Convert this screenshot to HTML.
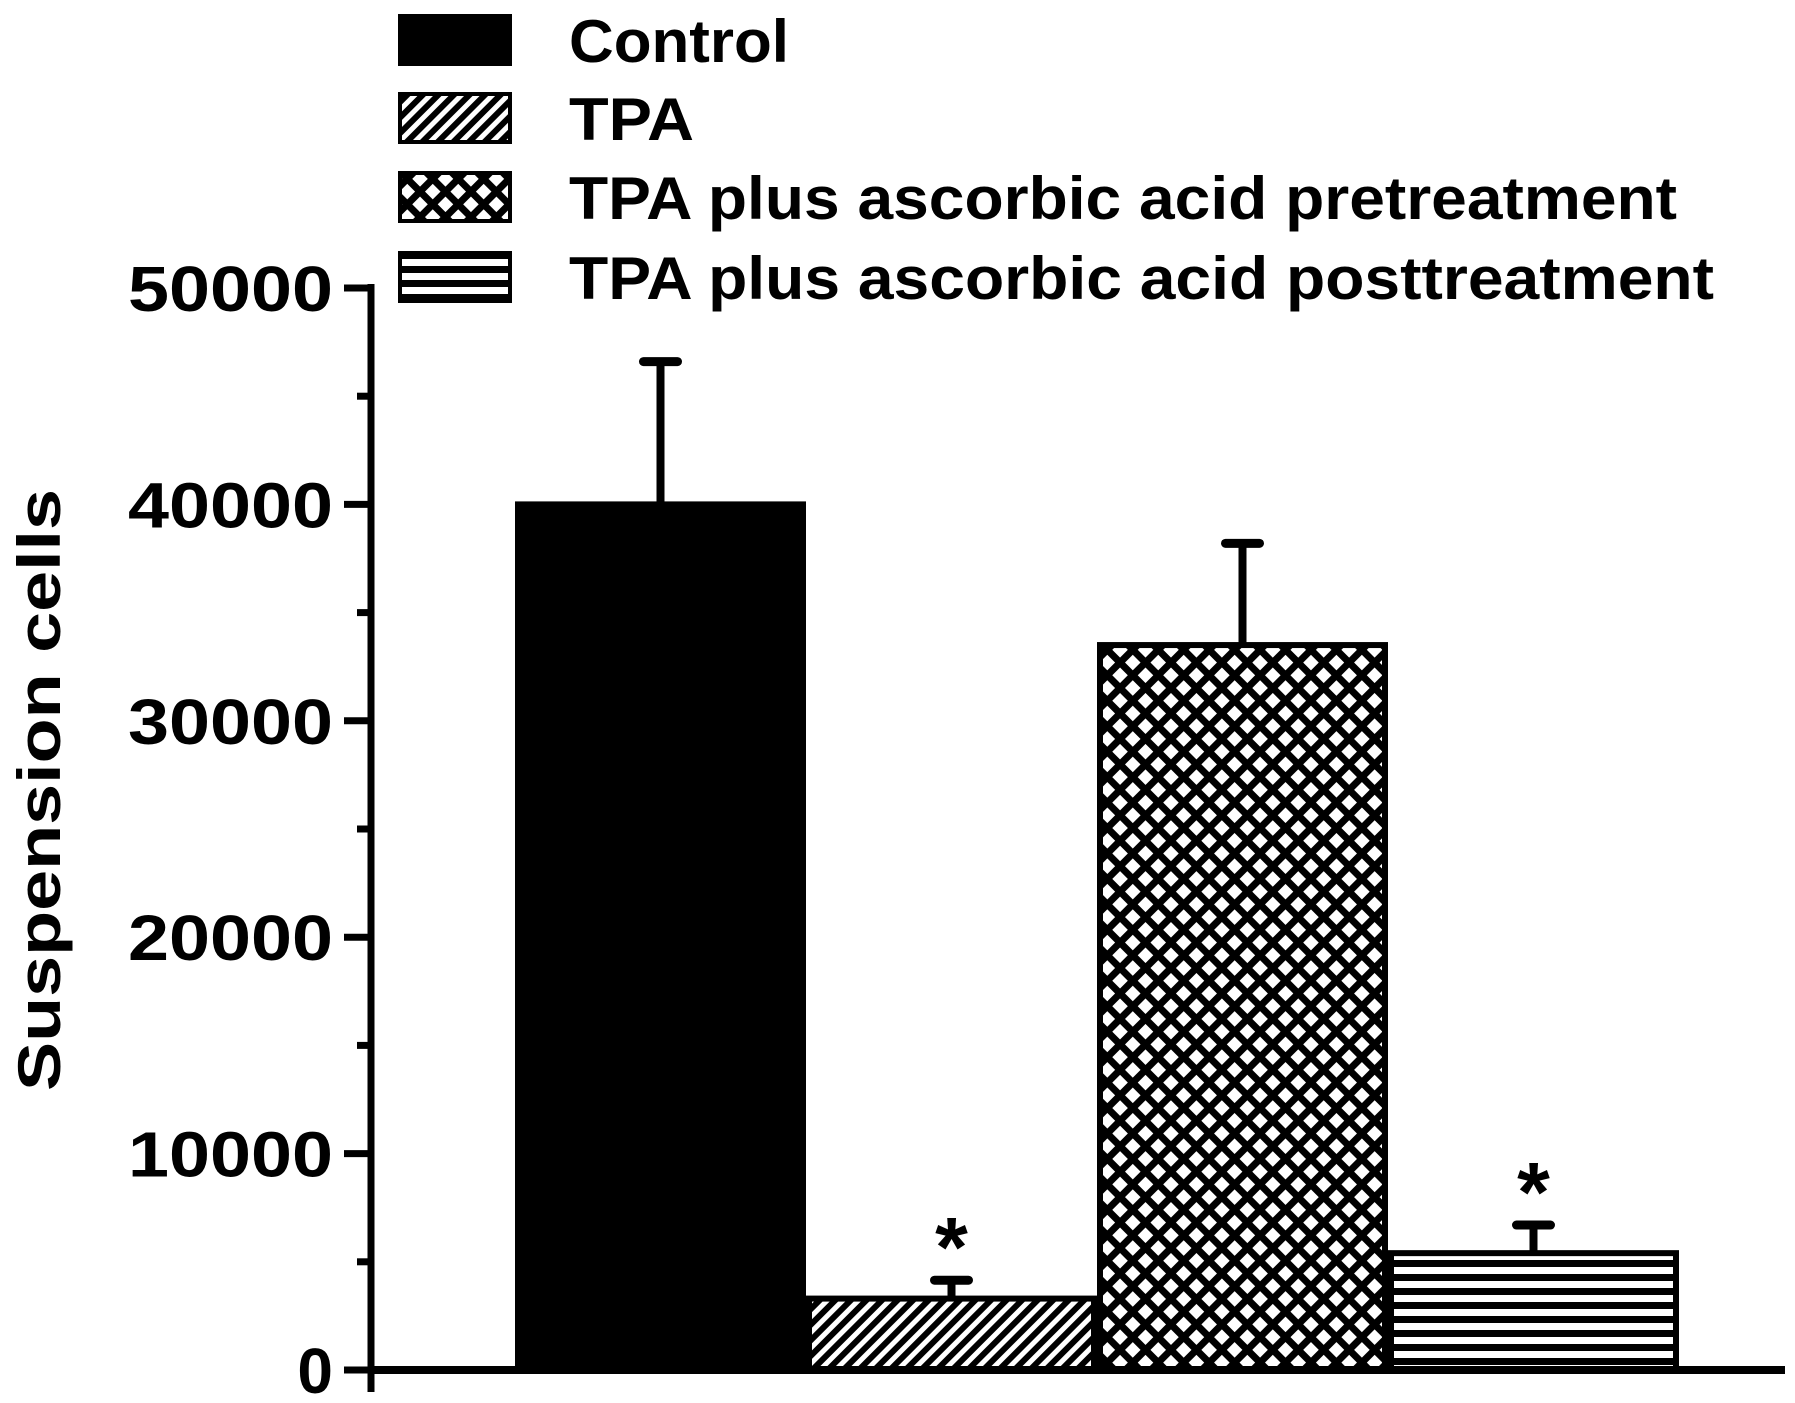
<!DOCTYPE html>
<html><head><meta charset="utf-8"><style>
html,body{margin:0;padding:0;background:#fff;}
svg{display:block;}
text{font-family:"Liberation Sans",Arial,sans-serif;font-weight:bold;fill:#000;}
</style></head><body>
<svg id="chart" width="1795" height="1403" viewBox="0 0 1795 1403" xmlns="http://www.w3.org/2000/svg">
<defs>
<pattern id="p-hatch" patternUnits="userSpaceOnUse" width="11" height="11" patternTransform="rotate(45)">
<rect width="11" height="11" fill="#fff"/><rect x="0" y="0" width="6" height="11" fill="#000"/></pattern>
<pattern id="p-cross" patternUnits="userSpaceOnUse" width="18" height="18" patternTransform="rotate(45)">
<rect width="18" height="18" fill="#000"/><rect x="4" y="4" width="11" height="11" fill="#fff"/></pattern>
<pattern id="p-horiz" patternUnits="userSpaceOnUse" width="14" height="14">
<rect width="14" height="14" fill="#fff"/><rect x="0" y="0" width="14" height="7" fill="#000"/></pattern>
</defs>
<g id="legend"></g>
<g id="bars"></g>
<g id="axes"></g>
<text transform="translate(60,790) rotate(-90)" text-anchor="middle" font-size="60" textLength="602" lengthAdjust="spacingAndGlyphs">Suspension cells</text>
</svg>
<script>
const categories = ["Control","TPA","TPA plus ascorbic acid pretreatment","TPA plus ascorbic acid posttreatment"];
const values = [40000, 3300, 33500, 5400];
const errors = [6600, 850, 4700, 1300];
const significant = [false, true, false, true];
const yTicks = [0, 10000, 20000, 30000, 40000, 50000];
const fills = ["#000","url(#p-hatch)","url(#p-cross)","url(#p-horiz)"];

const NS = "http://www.w3.org/2000/svg";
const y0 = 1370, yTop = 288, yMax = 50000;
const y = v => y0 - (v / yMax) * (y0 - yTop);
const barLeft = 515, barW = 291;
const x = i => barLeft + i * barW;
function mk(tag, attrs, parent){const e=document.createElementNS(NS,tag);for(const k in attrs)e.setAttribute(k,attrs[k]);parent.appendChild(e);return e;}

const bars = document.getElementById('bars');
values.forEach((v,i)=>{
  const r = mk('rect',{x:x(i)+3,y:y(v),width:barW-6,height:y0-y(v),fill:fills[i],stroke:'#000','stroke-width':6},bars);
  
  
  const cx = x(i)+barW/2, ye = y(v+errors[i]);
  const l = mk('line',{x1:cx,x2:cx,y1:y(v),y2:ye,stroke:'#000','stroke-width':8},bars);
  
  
  const c = mk('line',{x1:cx-17,x2:cx+17,y1:ye,y2:ye,stroke:'#000','stroke-width':9,'stroke-linecap':'round'},bars);
  
  
  if(significant[i]){
    const t = mk('text',{x:cx,y:ye-4,'text-anchor':'middle','font-size':84},bars);
    t.textContent='*';
    
    
  }
});

const axes = document.getElementById('axes');
const ya = mk('line',{x1:371,x2:371,y1:yTop-4,y2:y0+22,stroke:'#000','stroke-width':7},axes);


const xa = mk('line',{x1:368,x2:1785,y1:y0,y2:y0,stroke:'#000','stroke-width':8},axes);


yTicks.forEach(t=>{
  const tk = mk('line',{x1:344,x2:371,y1:y(t),y2:y(t),stroke:'#000','stroke-width':7},axes);
  
  
  const lb = mk('text',{x:333,y:y(t)+23,'text-anchor':'end','font-size':64},axes);
  lb.textContent = String(t);
  if(String(t).length>1){ lb.setAttribute('textLength', 41*String(t).length); lb.setAttribute('lengthAdjust','spacingAndGlyphs'); }
  
  
  if(t<yMax){
    const m = mk('line',{x1:357,x2:371,y1:y(t+5000),y2:y(t+5000),stroke:'#000','stroke-width':7},axes);
    
    
  }
});

const legend = document.getElementById('legend');
const ly = [40,118,197,277];
const lw = [220, 125, 1108, 1145];
categories.forEach((c,i)=>{
  const s = mk('rect',{x:400,y:ly[i]-24,width:110,height:48,fill:fills[i],stroke:'#000','stroke-width':4},legend);
  
  
  const t = mk('text',{x:569,y:ly[i]+22,'font-size':60,textLength:lw[i],lengthAdjust:'spacingAndGlyphs'},legend);
  t.textContent = c;
  
  
});
</script>
</body></html>
